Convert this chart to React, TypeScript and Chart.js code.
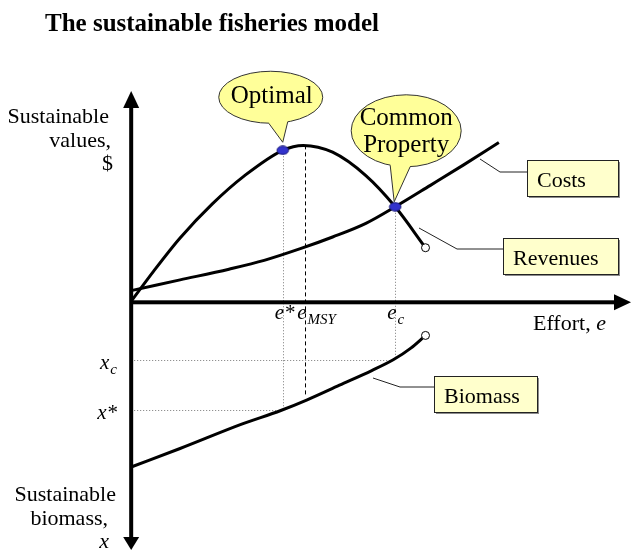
import React, { useEffect, useRef } from "react";
import { Chart, registerables } from "chart.js";

Chart.register(...registerables);

// ---- Data (effort units along the horizontal axis, $ upward, biomass downward) ----
const revenueEffort = [0, 23, 50, 83, 116, 155, 176, 206, 240, 270, 301];
const revenueValues = [1, 32, 66, 101, 130, 156, 161, 154, 130, 98, 56];
const costEffort = [0, 50, 100, 136, 173, 206, 240, 270, 306, 340, 376];
const costValues = [12, 23, 34, 43, 55, 67, 81, 98, 120, 141, 164];
const biomassEffort = [0, 50, 113, 153, 180, 213, 246, 268, 286, 301];
const biomassValues = [169, 150, 125, 111, 100, 85, 70, 59, 47, 34];

// equilibrium points: [effort, revenue]
const optimalPoint = [155, 156];
const commonPropertyPoint = [270, 98];
const msyPoint = [178, 161];
const revenueEndPoint = [301, 56];
const biomassEndPoint = [301, 34];

// tick labels on the effort axis
const effortTicks = [155, 178, 270];
const effortTickMain = ["e*", "e", "e"];
const effortTickSub = ["", "MSY", "c"];
// tick labels on the biomass axis
const biomassTicks = [111, 59];
const biomassTickMain = ["x*", "x"];
const biomassTickSub = ["", "c"];
const msyDashBottom = 95;

const SERIF = '"Liberation Serif", "Times New Roman", serif';

function makeDot(): HTMLCanvasElement {
  const c = document.createElement("canvas");
  c.width = 14;
  c.height = 10;
  const g = c.getContext("2d")!;
  g.beginPath();
  g.ellipse(7, 5, 5.8, 4.2, 0, 0, Math.PI * 2);
  g.fillStyle = "#3333cc";
  g.fill();
  g.lineWidth = 1;
  g.strokeStyle = "#1c1c7a";
  g.stroke();
  return c;
}

function callout(ctx: CanvasRenderingContext2D, cx: number, cy: number, rx: number, ry: number, bx1: number, bx2: number, tipX: number, tipY: number) {
  const by = (bx: number) => cy + ry * Math.sqrt(Math.max(0, 1 - ((bx - cx) / rx) ** 2));
  ctx.fillStyle = "#ffff99";
  ctx.strokeStyle = "#333333";
  ctx.lineWidth = 1;
  ctx.setLineDash([]);
  ctx.beginPath();
  ctx.ellipse(cx, cy, rx, ry, 0, 0, Math.PI * 2);
  ctx.fill();
  ctx.stroke();
  const y1 = by(bx1), y2 = by(bx2);
  ctx.beginPath();
  ctx.moveTo(bx1 + 1, y1 - 4);
  ctx.lineTo(bx1, y1);
  ctx.lineTo(tipX, tipY);
  ctx.lineTo(bx2, y2);
  ctx.lineTo(bx2 - 1, y2 - 4);
  ctx.closePath();
  ctx.fill();
  ctx.beginPath();
  ctx.moveTo(bx1, y1);
  ctx.lineTo(tipX, tipY);
  ctx.lineTo(bx2, y2);
  ctx.stroke();
}

function box(ctx: CanvasRenderingContext2D, x: number, y: number, w: number, h: number, label: string) {
  ctx.setLineDash([]);
  ctx.fillStyle = "#8c8c8c";
  ctx.fillRect(x + 2, y + 2, w, h);
  ctx.fillStyle = "#ffffcc";
  ctx.fillRect(x, y, w, h);
  ctx.strokeStyle = "#222";
  ctx.lineWidth = 1;
  ctx.strokeRect(x + 0.5, y + 0.5, w, h);
  ctx.fillStyle = "#000";
  ctx.font = `22px ${SERIF}`;
  ctx.textAlign = "left";
  ctx.textBaseline = "alphabetic";
  ctx.fillText(label, x + 10, y + 27);
}

function leader(ctx: CanvasRenderingContext2D, pts: number[][]) {
  ctx.setLineDash([]);
  ctx.strokeStyle = "#222";
  ctx.lineWidth = 1;
  ctx.beginPath();
  pts.forEach((p, i) => (i ? ctx.lineTo(p[0], p[1]) : ctx.moveTo(p[0], p[1])));
  ctx.stroke();
}

function subText(ctx: CanvasRenderingContext2D, main: string, sub: string, x: number, y: number, align: "left" | "right") {
  ctx.textBaseline = "alphabetic";
  ctx.textAlign = "left";
  ctx.font = `italic 21px ${SERIF}`;
  const wMain = ctx.measureText(main).width;
  ctx.font = `italic 15px ${SERIF}`;
  const wSub = sub ? ctx.measureText(sub).width + 1 : 0;
  const start = align === "left" ? x : x - wMain - wSub;
  ctx.fillStyle = "#000";
  ctx.font = `italic 21px ${SERIF}`;
  ctx.fillText(main, start, y);
  if (sub) {
    ctx.font = `italic 15px ${SERIF}`;
    ctx.fillText(sub, start + wMain + 1, y + 5);
  }
}

const annotations = {
  id: "fisheriesAnnotations",
  beforeDatasetsDraw(chart: any) {
    const ctx: CanvasRenderingContext2D = chart.ctx;
    const xs = chart.scales.x;
    const ys = chart.scales.y;
    const X = (v: number) => xs.getPixelForValue(v);
    const Y = (v: number) => ys.getPixelForValue(v);
    const cX = (v: number) => Math.round(X(v)) + 0.5;
    const cY = (v: number) => Math.round(Y(v)) + 0.5;
    ctx.save();

    // Title
    ctx.fillStyle = "#000";
    ctx.font = `bold 25px ${SERIF}`;
    ctx.textAlign = "left";
    ctx.textBaseline = "alphabetic";
    ctx.fillText("The sustainable fisheries model", 45, 31);

    // dotted guide lines
    ctx.strokeStyle = "#7a7a7a";
    ctx.lineWidth = 1;
    ctx.setLineDash([1, 2]);
    const seg = (x1: number, y1: number, x2: number, y2: number) => {
      ctx.beginPath();
      ctx.moveTo(x1, y1);
      ctx.lineTo(x2, y2);
      ctx.stroke();
    };
    seg(cX(optimalPoint[0]), Y(optimalPoint[1]), cX(optimalPoint[0]), Y(-biomassTicks[0]));
    seg(cX(commonPropertyPoint[0]), Y(commonPropertyPoint[1]), cX(commonPropertyPoint[0]), Y(-biomassTicks[1]));
    seg(X(0), cY(-biomassTicks[0]), X(optimalPoint[0]), cY(-biomassTicks[0]));
    seg(X(0), cY(-biomassTicks[1]), X(commonPropertyPoint[0]), cY(-biomassTicks[1]));

    // dashed MSY line
    ctx.strokeStyle = "#000";
    ctx.setLineDash([4, 3]);
    seg(cX(msyPoint[0]), Y(msyPoint[1]), cX(msyPoint[0]), Y(-msyDashBottom));
    ctx.setLineDash([]);

    // axes
    const ox = X(0), oy = Y(0);
    ctx.fillStyle = "#000";
    ctx.fillRect(ox - 2, 106, 4, 434);
    ctx.fillRect(ox, oy - 2, 616 - ox, 4);
    ctx.beginPath();
    ctx.moveTo(ox, 91);
    ctx.lineTo(ox - 8, 108);
    ctx.lineTo(ox + 8, 108);
    ctx.closePath();
    ctx.fill();
    ctx.beginPath();
    ctx.moveTo(ox, 550);
    ctx.lineTo(ox - 8, 537);
    ctx.lineTo(ox + 8, 537);
    ctx.closePath();
    ctx.fill();
    ctx.beginPath();
    ctx.moveTo(631, oy);
    ctx.lineTo(614, oy - 8);
    ctx.lineTo(614, oy + 8);
    ctx.closePath();
    ctx.fill();

    // axis titles
    ctx.font = `22px ${SERIF}`;
    ctx.textAlign = "right";
    ctx.fillText("Sustainable", 109, 123);
    ctx.fillText("values,", 111, 147);
    ctx.fillText("$", 113, 170);
    ctx.fillText("Sustainable", 116, 501);
    ctx.fillText("biomass,", 108, 525);
    ctx.font = `italic 22px ${SERIF}`;
    ctx.fillText("x", 109, 548);
    ctx.textAlign = "left";
    ctx.font = `22px ${SERIF}`;
    ctx.fillText("Effort, ", 533, 330);
    const wEff = ctx.measureText("Effort, ").width;
    ctx.font = `italic 22px ${SERIF}`;
    ctx.fillText("e", 533 + wEff, 330);

    // tick labels
    effortTicks.forEach((v, i) => subText(ctx, effortTickMain[i], effortTickSub[i], X(v) - 8, oy + 17, "left"));
    biomassTicks.forEach((v, i) => subText(ctx, biomassTickMain[i], biomassTickSub[i], 117, Y(-v) + 9, "right"));

    // callouts
    const op = [X(optimalPoint[0]), Y(optimalPoint[1])];
    callout(ctx, op[0] - 12, op[1] - 53, 52, 26, op[0] - 14, op[0] + 5, op[0], op[1] - 8);
    ctx.fillStyle = "#000";
    ctx.font = `25px ${SERIF}`;
    ctx.textAlign = "center";
    ctx.fillText("Optimal", op[0] - 11, op[1] - 47);
    const cp = [X(commonPropertyPoint[0]), Y(commonPropertyPoint[1])];
    callout(ctx, cp[0] + 11, cp[1] - 76, 55, 36, cp[0] - 5, cp[0] + 15, cp[0] - 1, cp[1] - 5);
    ctx.fillStyle = "#000";
    ctx.font = `25px ${SERIF}`;
    ctx.textAlign = "center";
    ctx.fillText("Common", cp[0] + 11, cp[1] - 82);
    ctx.fillText("Property", cp[0] + 11, cp[1] - 55);

    // label boxes with leaders
    leader(ctx, [[480, 159], [500, 172], [527, 172]]);
    box(ctx, 527, 160, 91, 36, "Costs");
    leader(ctx, [[419, 228], [457, 249], [503, 249]]);
    box(ctx, 503, 238, 115, 36, "Revenues");
    leader(ctx, [[373, 378], [400, 387], [434, 387]]);
    box(ctx, 434, 376, 103, 36, "Biomass");

    ctx.restore();
  },
};

export default function App() {
  const ref = useRef<HTMLCanvasElement | null>(null);
  useEffect(() => {
    if (!ref.current) return;
    const dot = makeDot();
    const line = (ex: number[], vals: number[], sign = 1) =>
      ex.map((e, i) => ({ x: e, y: sign * vals[i] }));
    const chart = new Chart(ref.current, {
      type: "scatter",
      data: {
        datasets: [
          {
            label: "Equilibria",
            data: [
              { x: optimalPoint[0], y: optimalPoint[1] },
              { x: commonPropertyPoint[0], y: commonPropertyPoint[1] },
            ],
            pointStyle: dot as any,
            pointRadius: 6,
            showLine: false,
            order: 0,
          },
          {
            label: "Ends",
            data: [
              { x: revenueEndPoint[0], y: revenueEndPoint[1] },
              { x: biomassEndPoint[0], y: -biomassEndPoint[1] },
            ],
            pointRadius: 4,
            pointBackgroundColor: "#ffffff",
            pointBorderColor: "#000000",
            pointBorderWidth: 1,
            showLine: false,
            order: 0,
          },
          {
            label: "Revenues",
            data: line(revenueEffort, revenueValues),
            showLine: true,
            borderColor: "#000",
            borderWidth: 3,
            pointRadius: 0,
            cubicInterpolationMode: "monotone",
            order: 1,
          },
          {
            label: "Costs",
            data: line(costEffort, costValues),
            showLine: true,
            borderColor: "#000",
            borderWidth: 3,
            pointRadius: 0,
            cubicInterpolationMode: "monotone",
            order: 1,
          },
          {
            label: "Biomass",
            data: line(biomassEffort, biomassValues, -1),
            showLine: true,
            borderColor: "#000",
            borderWidth: 3,
            pointRadius: 0,
            cubicInterpolationMode: "monotone",
            order: 1,
          },
        ],
      },
      options: {
        responsive: false,
        animation: false,
        devicePixelRatio: 1,
        layout: { padding: 0 },
        scales: {
          x: { type: "linear", min: -127, max: 504, display: false },
          y: { type: "linear", min: -248, max: 303, display: false },
        },
        plugins: {
          legend: { display: false },
          tooltip: { enabled: false },
        },
      },
      plugins: [annotations],
    });
    return () => chart.destroy();
  }, []);
  return (
    <div style={{ position: "fixed", left: 0, top: 0, width: 631, height: 551, background: "#fff" }}>
      <canvas ref={ref} width={631} height={551} style={{ display: "block" }} />
    </div>
  );
}
